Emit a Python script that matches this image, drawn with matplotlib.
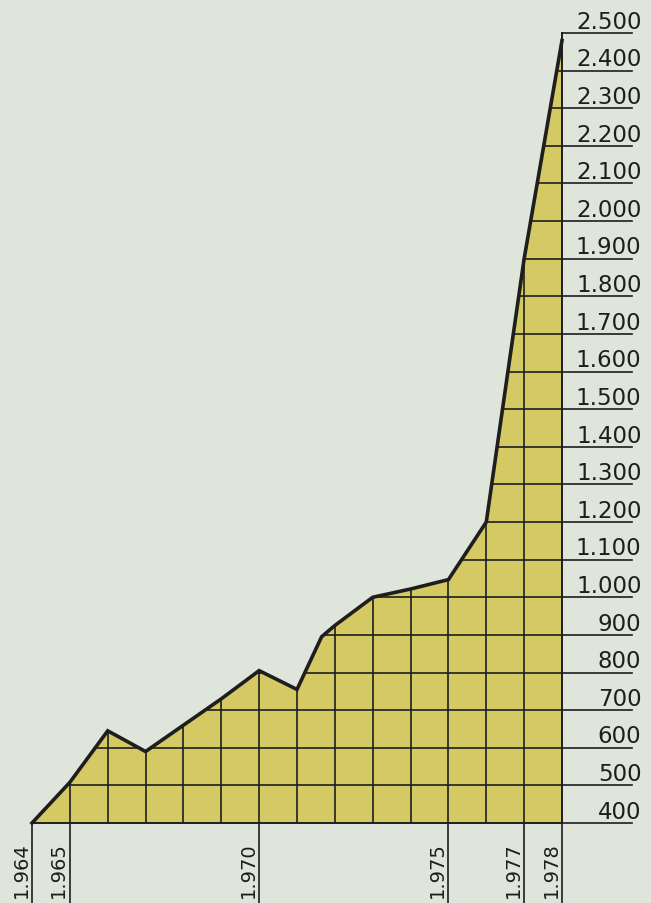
import matplotlib.pyplot as plt
from matplotlib.patches import Polygon

# values (kink between 1971 and 1972 kept as drawn)
years = [1964, 1965, 1966, 1967, 1968, 1969, 1970, 1971, 1971.65, 1972,
         1973, 1974, 1975, 1976, 1977, 1978]
values = [400, 508, 645, 590, 660, 730, 805, 755, 895, 925,
          1000, 1022, 1047, 1200, 1900, 2480]

grid_years = list(range(1965, 1978))
labeled_years = [1964, 1965, 1970, 1975, 1977, 1978]
year_labels = ['1.964', '1.965', '1.970', '1.975', '1.977', '1.978']
levels = list(range(400, 2600, 100))
level_labels = ['{:,}'.format(v).replace(',', '.') for v in levels]

bg = '#dfe5da'
fill = '#d5c964'
ink = '#1e1e1e'

fig = plt.figure(figsize=(6.51, 9.04), dpi=100, facecolor=bg)
ax = fig.add_axes([0, 0, 1, 1])
ax.set_facecolor(bg)
ax.set_xlim(1963.155, 1980.351)
ax.set_ylim(187.3, 2590.4)
ax.axis('off')

x0, x1 = years[0], years[-1]
base = levels[0]

# filled area
verts = [(x0, base)] + list(zip(years, values)) + [(x1, base)]
area = Polygon(verts, closed=True, facecolor=fill, edgecolor='none', zorder=1)
ax.add_patch(area)

# grid inside the area
for y in levels[1:]:
    ln, = ax.plot([x0, x1], [y, y], color=ink, lw=1.2, zorder=2)
    ln.set_clip_path(area)
for x in grid_years:
    ln, = ax.plot([x, x], [base, levels[-1]], color=ink, lw=1.2, zorder=2)
    ln.set_clip_path(area)

# scale lines and labels on the right
label_end = 1979.85
for y, lab in zip(levels, level_labels):
    ax.plot([x1, label_end], [y, y], color=ink, lw=1.2, zorder=2)
    ax.text(1980.1, y + 14, lab, ha='right', va='baseline',
            fontsize=16.5, color=ink, zorder=4)
ax.plot([x1, x1], [base, levels[-1]], color=ink, lw=1.4, zorder=3)

# year ticks and labels at the bottom
for x, lab in zip(labeled_years, year_labels):
    ax.plot([x, x], [187.3, base], color=ink, lw=1.2, zorder=2)
    ax.text(x - 0.04, 203, lab, rotation=90, ha='right', va='bottom',
            fontsize=14, color=ink, zorder=4)

# outline
ax.plot(years, values, color=ink, lw=2.6, zorder=3, solid_joinstyle='miter')
ax.plot([x0, x1], [base, base], color=ink, lw=1.4, zorder=3)

plt.savefig('out.png', dpi=100, facecolor=bg)
